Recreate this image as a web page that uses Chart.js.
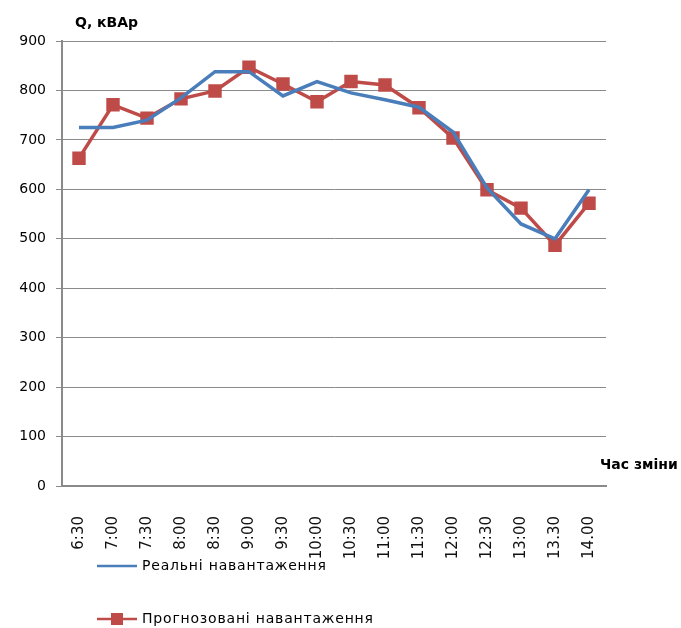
<!DOCTYPE html>
<html>
<head>
<meta charset="utf-8">
<script src="https://cdn.jsdelivr.net/npm/chart.js@4"></script>
<style>
  html, body { margin: 0; padding: 0; background: #fff; }
  #wrap { width: 681px; height: 628px; }
</style>
</head>
<body>
<div id="wrap"><canvas id="qChart" width="681" height="628"></canvas></div>
<script>
// часові мітки зміни
const labels = ['6:30', '7:00', '7:30', '8:00', '8:30', '9:00', '9:30', '10:00',
  '10:30', '11:00', '11:30', '12:00', '12:30', '13:00', '13.30', '14.00'];
// реальні навантаження, кВАр
const realLoad = [725, 725, 740, 785, 838, 838, 789, 818, 795, 781, 766, 716, 603, 530, 500, 599];
// прогнозовані навантаження, кВАр
const forecastLoad = [663, 771, 744, 783, 799, 847, 813, 777, 818, 811, 765, 704, 599, 562, 487, 572];
const yTicks = [0, 100, 200, 300, 400, 500, 600, 700, 800, 900];

const legendNames = ['Реальні навантаження', 'Прогнозовані навантаження'];
const blue = '#4A7EBB';
const red = '#BE4B48';

const extraText = {
  id: 'extraText',
  afterDraw(chart) {
    const c = chart.ctx;
    c.save();
    c.fillStyle = '#000';
    c.textBaseline = 'middle';
    c.font = 'bold 14px "DejaVu Sans"';
    c.fillText('Q, кВАр', 75, 23);
    c.fillText('Час зміни', 600, 465);

    // легенда
    c.font = '14px "DejaVu Sans"';
    c.letterSpacing = '0.8px';
    c.lineWidth = 2.5;
    c.strokeStyle = blue;
    c.beginPath(); c.moveTo(97, 566); c.lineTo(137, 566); c.stroke();
    c.fillText(legendNames[0], 142, 566);

    c.strokeStyle = red;
    c.beginPath(); c.moveTo(97, 619); c.lineTo(137, 619); c.stroke();
    c.fillStyle = red;
    c.fillRect(111, 613, 12, 12);
    c.fillStyle = '#000';
    c.fillText(legendNames[1], 142, 619);
    c.restore();
  }
};

new Chart(document.getElementById('qChart'), {
  type: 'line',
  data: {
    labels: labels,
    datasets: [
      {
        label: legendNames[0],
        data: realLoad,
        borderColor: blue,
        backgroundColor: blue,
        borderWidth: 3.5,
        pointRadius: 0,
        tension: 0
      },
      {
        label: legendNames[1],
        data: forecastLoad,
        borderColor: red,
        backgroundColor: red,
        borderWidth: 3.5,
        pointStyle: 'rect',
        pointRadius: 9.5,
        pointBorderWidth: 0,
        tension: 0
      }
    ]
  },
  options: {
    responsive: false,
    animation: false,
    layout: { padding: { top: 41, right: 75, left: 0, bottom: 0 } },
    plugins: {
      legend: { display: false },
      tooltip: { enabled: false }
    },
    scales: {
      y: {
        min: 0,
        max: 900,
        afterFit: s => { s.width = 62; },
        afterBuildTicks: s => { s.ticks = yTicks.map(v => ({ value: v })); },
        ticks: { color: '#000', font: { family: 'DejaVu Sans', size: 14 }, padding: 10 },
        grid: { color: '#8a8a8a', lineWidth: 1, tickLength: 6 },
        border: { color: '#8a8a8a', width: 2 }
      },
      x: {
        offset: true,
        afterFit: s => { s.height = 142; },
        ticks: {
          color: '#111',
          font: { family: 'DejaVu Sans', size: 15 },
          minRotation: 90,
          maxRotation: 90,
          autoSkip: false,
          padding: 22
        },
        grid: { display: false },
        border: { color: '#8a8a8a', width: 2 }
      }
    }
  },
  plugins: [extraText]
});
</script>
</body>
</html>
